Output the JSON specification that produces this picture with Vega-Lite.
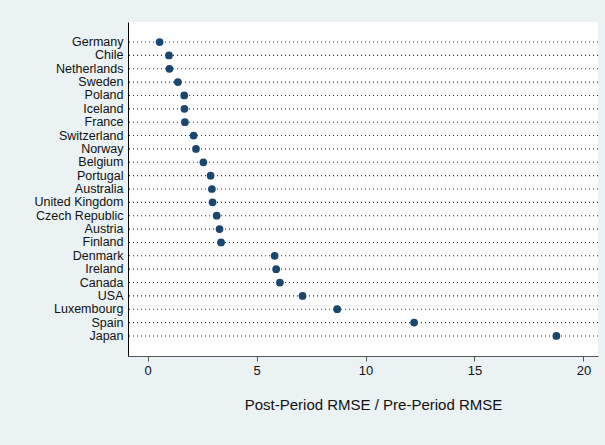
{
  "$schema": "https://vega.github.io/schema/vega-lite/v6.json",
  "autosize": {"type": "none"},
  "padding": {"left": 128, "top": 22, "right": 7, "bottom": 89},
  "width": 470,
  "height": 334,
  "background": "#EAF2F3",
  "config": {
    "view": {"fill": "white", "stroke": null},
    "font": "Liberation Sans"
  },
  "data": {
    "values": [
      {"country": "Germany", "ratio": 0.55},
      {"country": "Chile", "ratio": 0.98},
      {"country": "Netherlands", "ratio": 1.0},
      {"country": "Sweden", "ratio": 1.39},
      {"country": "Poland", "ratio": 1.68},
      {"country": "Iceland", "ratio": 1.69},
      {"country": "France", "ratio": 1.71},
      {"country": "Switzerland", "ratio": 2.11},
      {"country": "Norway", "ratio": 2.22},
      {"country": "Belgium", "ratio": 2.56},
      {"country": "Portugal", "ratio": 2.89},
      {"country": "Australia", "ratio": 2.95},
      {"country": "United Kingdom", "ratio": 2.98},
      {"country": "Czech Republic", "ratio": 3.17},
      {"country": "Austria", "ratio": 3.3},
      {"country": "Finland", "ratio": 3.37},
      {"country": "Denmark", "ratio": 5.83},
      {"country": "Ireland", "ratio": 5.9},
      {"country": "Canada", "ratio": 6.07},
      {"country": "USA", "ratio": 7.11},
      {"country": "Luxembourg", "ratio": 8.7},
      {"country": "Spain", "ratio": 12.23},
      {"country": "Japan", "ratio": 18.76}
    ]
  },
  "encoding": {
    "y": {
      "field": "country",
      "type": "nominal",
      "sort": {"field": "ratio", "order": "ascending"},
      "scale": {"type": "band", "paddingInner": 0, "paddingOuter": 1.15, "align": 0.5, "round": false},
      "axis": {
        "title": null,
        "ticks": false,
        "grid": false,
        "domainColor": "#000000",
        "domainWidth": 1,
        "labelFontSize": 12.5,
        "labelColor": "#111111",
        "labelPadding": 5,
        "labelFont": "Liberation Sans"
      }
    }
  },
  "layer": [
    {
      "mark": {"type": "rule", "color": "#333333", "strokeDash": [1, 3], "strokeWidth": 1.1},
      "encoding": {}
    },
    {
      "mark": {"type": "point", "filled": true, "color": "#1A476F", "size": 60, "opacity": 1},
      "encoding": {
        "x": {
          "field": "ratio",
          "type": "quantitative",
          "scale": {"domain": [-0.9, 20.67], "nice": false, "zero": false},
          "axis": {
            "values": [0, 5, 10, 15, 20],
            "title": "Post-Period RMSE / Pre-Period RMSE",
            "titleFontSize": 15,
            "titleFontWeight": "normal",
            "titleColor": "#111111",
            "titlePadding": 20,
            "titleX": 245,
            "titleAnchor": "middle",
            "titleAlign": "center",
            "grid": false,
            "domainColor": "#555555",
            "tickColor": "#555555",
            "tickSize": 5,
            "labelFontSize": 13,
            "labelColor": "#111111",
            "labelPadding": 3
          }
        }
      }
    }
  ]
}
